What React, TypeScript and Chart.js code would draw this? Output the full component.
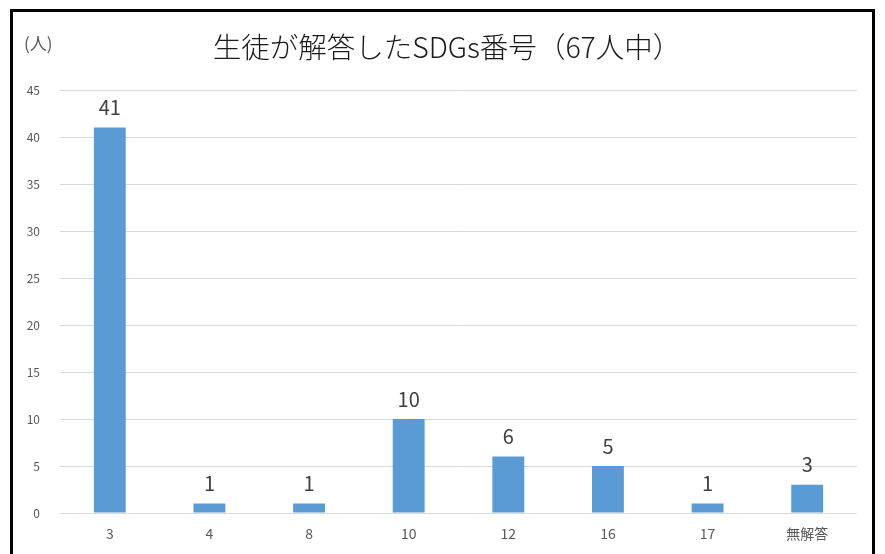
import React, { useEffect, useRef } from "react";
import { Chart, registerables } from "chart.js";

Chart.register(...registerables);

const categories = ["3", "4", "8", "10", "12", "16", "17", "無解答"];
const values = [41, 1, 1, 10, 6, 5, 1, 3];
const titleText = "生徒が解答したSDGs番号（67人中）";
const unitLabel = "(人)";
const yMax = 45;
const yStep = 5;

const FONT = '"Noto Sans CJK JP", "Noto Sans", sans-serif';

export default function App() {
  const ref = useRef<HTMLCanvasElement | null>(null);

  useEffect(() => {
    document.body.style.margin = "0";
    const canvas = ref.current;
    if (!canvas) return;

    const overlay = {
      id: "overlay",
      afterDatasetsDraw(chart: any) {
        const { ctx } = chart;
        const meta = chart.getDatasetMeta(0);
        ctx.save();
        ctx.fillStyle = "#404040";
        ctx.font = `20px ${FONT}`;
        ctx.textAlign = "center";
        ctx.textBaseline = "bottom";
        meta.data.forEach((bar: any, i: number) => {
          ctx.fillText(String(values[i]), bar.x, bar.y - 10);
        });
        ctx.restore();
      },
      afterDraw(chart: any) {
        const { ctx } = chart;
        ctx.save();
        ctx.fillStyle = "#1a1a1a";
        ctx.font = `300 28.5px ${FONT}`;
        ctx.textAlign = "center";
        ctx.textBaseline = "middle";
        ctx.fillText(titleText, 447, 47);
        ctx.fillStyle = "#595959";
        ctx.font = `17px ${FONT}`;
        ctx.textAlign = "left";
        ctx.fillText(unitLabel, 24, 44);
        ctx.restore();
      },
    };

    const chart = new Chart(canvas, {
      type: "bar",
      data: {
        labels: categories,
        datasets: [
          {
            data: values,
            backgroundColor: "#5B9BD5",
            barPercentage: 0.64,
            categoryPercentage: 0.5,
          },
        ],
      },
      options: {
        responsive: false,
        animation: false,
        events: [],
        layout: { padding: { top: 90, right: 28, left: 0, bottom: 0 } },
        plugins: {
          legend: { display: false },
          title: { display: false },
          tooltip: { enabled: false },
        },
        scales: {
          x: {
            grid: { display: false, drawTicks: false },
            border: { display: false },
            ticks: {
              color: "#595959",
              font: { family: FONT, size: 14 },
              padding: 12,
              maxRotation: 0,
            },
            afterFit(scale: any) {
              scale.height = 41;
            },
          },
          y: {
            min: 0,
            max: yMax,
            ticks: {
              stepSize: yStep,
              color: "#595959",
              font: { family: FONT, size: 12 },
              padding: 20,
            },
            grid: { color: "#d9d9d9", drawTicks: false, lineWidth: 1 },
            border: { display: false },
            afterFit(scale: any) {
              scale.width = 60;
            },
          },
        },
      },
      plugins: [overlay],
    });

    return () => chart.destroy();
  }, []);

  return (
    <div style={{ position: "relative", width: 885, height: 554, background: "#fff", overflow: "hidden" }}>
      <canvas ref={ref} width={885} height={554} style={{ position: "absolute", left: 0, top: 0 }} />
      <div
        style={{
          position: "absolute",
          left: 10,
          top: 9,
          width: 865,
          height: 560,
          border: "3px solid #000",
          boxSizing: "border-box",
          pointerEvents: "none",
        }}
      />
    </div>
  );
}
